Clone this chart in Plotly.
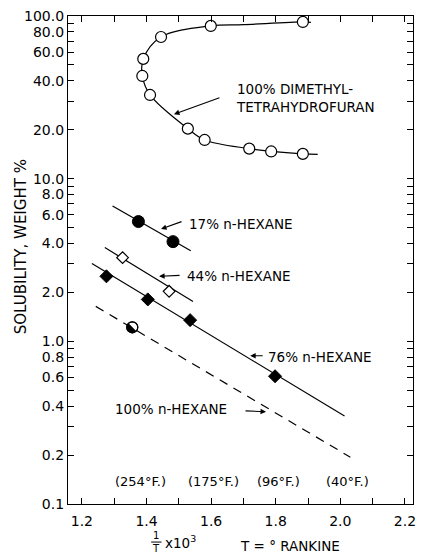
import numpy as np
import plotly.graph_objects as go

# ---------------- data ----------------
# 100% dimethyltetrahydrofuran (open circles)
dmthf_x = [1.884, 1.599, 1.445, 1.390, 1.387, 1.411, 1.528, 1.580, 1.718, 1.786, 1.884]
dmthf_y = [91.9, 86.9, 74.3, 54.5, 42.8, 32.7, 20.3, 17.3, 15.3, 14.7, 14.2]
# smooth curve drawn through the DMTHF points (path order, with end extensions)
dmthf_curve_x = [1.909, 1.884, 1.700, 1.599, 1.445, 1.390, 1.387, 1.411, 1.528, 1.580, 1.718, 1.786, 1.884, 1.930]
dmthf_curve_y = [91.5, 91.9, 88.5, 86.9, 74.3, 54.5, 42.8, 32.7, 20.3, 17.3, 15.3, 14.7, 14.2, 14.1]

# 17% n-hexane (filled circles)
h17_x = [1.375, 1.482]
h17_y = [5.45, 4.1]
h17_line_x = [1.295, 1.537]
h17_line_y = [6.8, 3.6]

# 44% n-hexane (open diamonds)
h44_x = [1.326, 1.470]
h44_y = [3.27, 2.03]
h44_line_x = [1.271, 1.544]
h44_line_y = [3.77, 1.76]

# 76% n-hexane (filled diamonds)
h76_x = [1.276, 1.404, 1.535, 1.798]
h76_y = [2.51, 1.81, 1.35, 0.61]
h76_line_x = [1.231, 2.013]
h76_line_y = [3.01, 0.347]

# 100% n-hexane (half-filled circle, dashed line)
h100_x = [1.356]
h100_y = [1.22]
h100_line_x = [1.243, 2.031]
h100_line_y = [1.64, 0.194]

# axis ticks
y_tickvals = [0.1, 0.2, 0.3, 0.4, 0.5, 0.6, 0.7, 0.8, 0.9,
              1, 2, 3, 4, 5, 6, 7, 8, 9,
              10, 20, 30, 40, 50, 60, 70, 80, 90, 100]
y_ticktext = ["0.1", "0.2", "", "0.4", "", "0.6", "", "0.8", "",
              "1.0", "2.0", "", "4.0", "", "6.0", "", "8.0", "",
              "10.0", "20.0", "", "40.0", "", "60.0", "", "80.0", "", "100.0"]
x_tickvals = [1.2, 1.4, 1.6, 1.8, 2.0, 2.2]
x_ticktext = ["1.2", "1.4", "1.6", "1.8", "2.0", "2.2"]

temp_labels = ["(254°F.)", "(175°F.)", "(96°F.)", "(40°F.)"]
temp_x = [1.381, 1.608, 1.810, 2.022]

FONT = "DejaVu Sans"
BLACK = "black"

# plot geometry (used to size the half-filled marker in screen units)
W, H = 423, 554
ML, MR, MT, MB = 68, 7, 16, 50
XR = [1.157, 2.225]
YR = [-1, 2]
px_per_x = (W - ML - MR) / (XR[1] - XR[0])
px_per_dec = (H - MT - MB) / (YR[1] - YR[0])

fig = go.Figure()

# lines
fig.add_trace(go.Scatter(x=dmthf_curve_x, y=dmthf_curve_y, mode="lines",
                         line=dict(color=BLACK, width=1.2, shape="spline", smoothing=1.0),
                         hoverinfo="skip"))
fig.add_trace(go.Scatter(x=h17_line_x, y=h17_line_y, mode="lines",
                         line=dict(color=BLACK, width=1.2)))
fig.add_trace(go.Scatter(x=h44_line_x, y=h44_line_y, mode="lines",
                         line=dict(color=BLACK, width=1.2)))
fig.add_trace(go.Scatter(x=h76_line_x, y=h76_line_y, mode="lines",
                         line=dict(color=BLACK, width=1.2)))
fig.add_trace(go.Scatter(x=h100_line_x, y=h100_line_y, mode="lines",
                         line=dict(color=BLACK, width=1.2, dash="9px,7px")))

# markers
fig.add_trace(go.Scatter(x=dmthf_x, y=dmthf_y, mode="markers",
                         marker=dict(symbol="circle", size=11, color="white",
                                     line=dict(color=BLACK, width=1.2))))
fig.add_trace(go.Scatter(x=h17_x, y=h17_y, mode="markers",
                         marker=dict(symbol="circle", size=12, color=BLACK,
                                     line=dict(color=BLACK, width=1))))
fig.add_trace(go.Scatter(x=h44_x, y=h44_y, mode="markers",
                         marker=dict(symbol="diamond", size=9, color="white",
                                     line=dict(color=BLACK, width=1.2))))
fig.add_trace(go.Scatter(x=h76_x, y=h76_y, mode="markers",
                         marker=dict(symbol="diamond", size=10, color=BLACK,
                                     line=dict(color=BLACK, width=1))))
fig.add_trace(go.Scatter(x=h100_x, y=h100_y, mode="markers",
                         marker=dict(symbol="circle", size=11, color="white",
                                     line=dict(color=BLACK, width=1.2))))
# lower-left filled half of the 100% n-hexane marker
r_px = 5.5
t = np.linspace(np.pi * 0.75, np.pi * 1.75, 30)
for cx, cy in zip(h100_x, h100_y):
    hx = cx + r_px * np.cos(t) / px_per_x
    hy = 10 ** (np.log10(cy) + r_px * np.sin(t) / px_per_dec)
    fig.add_trace(go.Scatter(x=list(hx) + [hx[0]], y=list(hy) + [hy[0]], mode="lines",
                             fill="toself", fillcolor=BLACK,
                             line=dict(color=BLACK, width=0.5), hoverinfo="skip"))
fig.add_trace(go.Scatter(x=h100_x, y=h100_y, mode="markers",
                         marker=dict(symbol="circle-open", size=11, color=BLACK,
                                     line=dict(color=BLACK, width=1.2))))

axis_common = dict(showline=True, linecolor=BLACK, linewidth=1.2, mirror="ticks",
                   ticks="inside", ticklen=6, tickwidth=1, tickcolor=BLACK,
                   showgrid=False, zeroline=False,
                   tickfont=dict(family=FONT, size=14, color=BLACK))

fig.update_xaxes(range=XR, tickmode="array", tickvals=x_tickvals,
                 ticktext=x_ticktext, ticklabelstandoff=4,
                 minor=dict(dtick=0.1, tick0=1.2, ticks="inside", ticklen=6,
                            tickcolor=BLACK, tickwidth=1),
                 **axis_common)
fig.update_yaxes(type="log", range=YR, tickmode="array", tickvals=y_tickvals,
                 ticktext=y_ticktext, **axis_common)

ann = []
tf = dict(family=FONT, size=13.5, color=BLACK)
af = dict(showarrow=True, arrowhead=2, arrowsize=1, arrowwidth=1.1, arrowcolor=BLACK,
          xref="x", yref="y", text="")
# DMTHF label & arrow
ann.append(dict(x=1.672, y=1.494, xref="x", yref="y", xanchor="left", yanchor="middle",
                text="100% DIMETHYL-<br>TETRAHYDROFURAN", align="left", showarrow=False, font=tf))
ann.append(dict(x=1.485, y=1.396, ax=47, ay=-17, **af))
# 17%
ann.append(dict(x=1.525, y=0.721, xref="x", yref="y", xanchor="left", yanchor="middle",
                text="17% n-HEXANE", showarrow=False, font=tf))
ann.append(dict(x=1.445, y=0.690, ax=22, ay=-8, **af))
# 44%
ann.append(dict(x=1.519, y=0.402, xref="x", yref="y", xanchor="left", yanchor="middle",
                text="44% n-HEXANE", showarrow=False, font=tf))
ann.append(dict(x=1.439, y=0.400, ax=22, ay=-1, **af))
# 76%
ann.append(dict(x=1.770, y=-0.095, xref="x", yref="y", xanchor="left", yanchor="middle",
                text="76% n-HEXANE", showarrow=False, font=tf))
ann.append(dict(x=1.721, y=-0.089, ax=14, ay=0, **af))
# 100% n-hexane
ann.append(dict(x=1.295, y=-0.414, xref="x", yref="y", xanchor="left", yanchor="middle",
                text="100% n-HEXANE", showarrow=False, font=tf))
ann.append(dict(x=1.770, y=-0.433, ax=-22, ay=-1, **af))
# temperature labels
for tl, xv in zip(temp_labels, temp_x):
    ann.append(dict(x=xv, y=-0.862, xref="x", yref="y", xanchor="center", yanchor="middle",
                    text=tl, showarrow=False, font=dict(family=FONT, size=13, color=BLACK)))
# y axis title
ann.append(dict(x=-0.138, y=0.527, xref="paper", yref="paper", xanchor="center",
                yanchor="middle", textangle=-90, text="SOLUBILITY, WEIGHT %",
                showarrow=False, font=dict(family=FONT, size=15, color=BLACK)))
# x axis label: 1/T x10^3
ann.append(dict(x=0.256, y=-0.0655, xref="paper", yref="paper", xanchor="center",
                yanchor="middle", text="1", showarrow=False, font=dict(family=FONT, size=10, color=BLACK)))
ann.append(dict(x=0.256, y=-0.092, xref="paper", yref="paper", xanchor="center",
                yanchor="middle", text="T", showarrow=False, font=dict(family=FONT, size=10, color=BLACK)))
ann.append(dict(x=0.276, y=-0.078, xref="paper", yref="paper", xanchor="left",
                yanchor="middle", text="x10<sup>3</sup>", showarrow=False, font=tf))
ann.append(dict(x=0.644, y=-0.086, xref="paper", yref="paper", xanchor="center",
                yanchor="middle", text="T = ° RANKINE", showarrow=False, font=tf))

fig.update_layout(
    width=W, height=H,
    margin=dict(l=ML, r=MR, t=MT, b=MB),
    paper_bgcolor="white", plot_bgcolor="white",
    showlegend=False,
    annotations=ann,
    shapes=[dict(type="line", xref="paper", yref="paper",
                 x0=0.241, x1=0.271, y0=-0.078, y1=-0.078,
                 line=dict(color=BLACK, width=1))],
    font=dict(family=FONT, color=BLACK),
)

fig.write_html("out.html")
